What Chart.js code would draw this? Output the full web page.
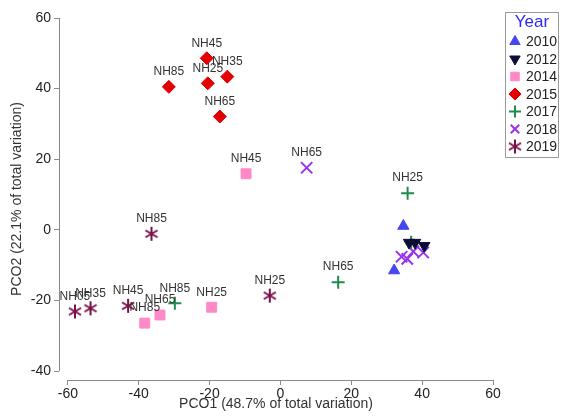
<!DOCTYPE html>
<html>
<head>
<meta charset="utf-8">
<script src="https://cdn.jsdelivr.net/npm/chart.js@4.4.1/dist/chart.umd.min.js"></script>
<style>
  html, body { margin: 0; padding: 0; background: #fff; }
  #wrap { width: 563px; height: 419px; }
</style>
</head>
<body>
<div id="wrap"><canvas id="pcoChart" width="563" height="419"></canvas></div>
<script>
// PCO scores per sampling year (PCO1 = x, PCO2 = y) with site labels
const years = ['2010', '2012', '2014', '2015', '2017', '2018', '2019'];

const x2010 = [34.7, 32.1];
const y2010 = [1.1, -11.5];
const lab2010 = ['', ''];

const x2012 = [36.3, 38.0, 40.6];
const y2012 = [-3.6, -3.6, -4.5];
const lab2012 = ['', '', ''];

const x2014 = [-9.7, -19.4, -34.0, -38.3];
const y2014 = [15.9, -21.9, -24.1, -26.4];
const lab2014 = ['NH45', 'NH25', 'NH65', 'NH85'];

const x2015 = [-31.5, -20.8, -20.5, -15.0, -17.1];
const y2015 = [40.5, 48.6, 41.5, 43.4, 32.1];
const lab2015 = ['NH85', 'NH45', 'NH25', 'NH35', 'NH65'];

const x2017 = [35.9, 36.9, 16.3, -29.8];
const y2017 = [10.4, -3.5, -14.8, -20.8];
const lab2017 = ['NH25', '', 'NH65', 'NH85'];

const x2018 = [7.4, 34.2, 35.8, 37.5, 40.3];
const y2018 = [17.6, -7.6, -8.2, -6.1, -6.4];
const lab2018 = ['NH65', '', '', '', ''];

const x2019 = [-36.4, -3.0, -58.0, -53.6, -43.0];
const y2019 = [-1.1, -18.6, -23.1, -22.2, -21.5];
const lab2019 = ['NH85', 'NH25', 'NH05', 'NH35', 'NH45'];

const xTicks = [-60, -40, -20, 0, 20, 40, 60];
const yTicks = [-40, -20, 0, 20, 40, 60];

const FONT = '"Liberation Sans", Arial, sans-serif';
const AXIS_COLOR = '#8a8a8a';

function pts(xs, ys) {
    return xs.map((x, i) => ({ x: x, y: ys[i] }));
}

// six-armed asterisk marker used for 2019
function asterisk(color) {
    const c = document.createElement('canvas');
    c.width = 16;
    c.height = 16;
    const g = c.getContext('2d');
    g.strokeStyle = color;
    g.lineWidth = 2;
    g.beginPath();
    for (let k = 0; k < 3; k++) {
        const a = Math.PI / 2 + k * Math.PI / 3;
        g.moveTo(8 + Math.cos(a) * 7, 8 - Math.sin(a) * 7);
        g.lineTo(8 - Math.cos(a) * 7, 8 + Math.sin(a) * 7);
    }
    g.stroke();
    return c;
}

const series = [
    { xs: x2010, ys: y2010, labs: lab2010, style: 'triangle', rot: 0, color: '#4646f0', r: 6.5, bw: 1 },
    { xs: x2012, ys: y2012, labs: lab2012, style: 'triangle', rot: 180, color: '#0c0c36', r: 6.5, bw: 1 },
    { xs: x2014, ys: y2014, labs: lab2014, style: 'rect', rot: 0, color: '#ff88c6', r: 7, bw: 1 },
    { xs: x2015, ys: y2015, labs: lab2015, style: 'rectRot', rot: 0, color: '#e40000', r: 6.5, bw: 1 },
    { xs: x2017, ys: y2017, labs: lab2017, style: 'cross', rot: 0, color: '#1f8b4f', r: 6.5, bw: 2 },
    { xs: x2018, ys: y2018, labs: lab2018, style: 'crossRot', rot: 0, color: '#9932ee', r: 8, bw: 2 },
    { xs: x2019, ys: y2019, labs: lab2019, style: asterisk('#7a1048'), rot: 0, color: '#7a1048', r: 7, bw: 2 }
];

// site names above each point
const siteLabels = {
    id: 'siteLabels',
    afterDatasetsDraw(chart) {
        const ctx = chart.ctx;
        ctx.save();
        ctx.font = '12px ' + FONT;
        ctx.fillStyle = '#333';
        ctx.textAlign = 'center';
        ctx.textBaseline = 'middle';
        chart.data.datasets.forEach((ds, i) => {
            const meta = chart.getDatasetMeta(i);
            meta.data.forEach((pt, j) => {
                const txt = ds.siteNames[j];
                if (txt) ctx.fillText(txt, pt.x, pt.y - 15);
            });
        });
        ctx.restore();
    }
};

// detached axis lines, spanning only the tick range
const axisLines = {
    id: 'axisLines',
    afterDraw(chart) {
        const ctx = chart.ctx;
        const xs = chart.scales.x, ys = chart.scales.y;
        const area = chart.chartArea;
        ctx.save();
        ctx.strokeStyle = AXIS_COLOR;
        ctx.lineWidth = 1;
        ctx.beginPath();
        ctx.moveTo(xs.getPixelForValue(xTicks[0]), Math.round(area.bottom) + 0.5);
        ctx.lineTo(xs.getPixelForValue(xTicks[xTicks.length - 1]), Math.round(area.bottom) + 0.5);
        ctx.moveTo(Math.round(area.left) + 0.5, ys.getPixelForValue(yTicks[0]));
        ctx.lineTo(Math.round(area.left) + 0.5, ys.getPixelForValue(yTicks[yTicks.length - 1]));
        ctx.stroke();
        ctx.restore();
    }
};

// boxed legend on the right
const yearLegend = {
    id: 'yearLegend',
    afterDraw(chart) {
        const ctx = chart.ctx;
        ctx.save();
        ctx.strokeStyle = '#9a9a9a';
        ctx.lineWidth = 1;
        ctx.strokeRect(505.5, 12.5, 53, 145);
        ctx.font = '17px ' + FONT;
        ctx.fillStyle = '#2b2bf5';
        ctx.textAlign = 'center';
        ctx.textBaseline = 'middle';
        ctx.fillText('Year', 532, 22);
        ctx.font = '14px ' + FONT;
        ctx.textAlign = 'left';
        chart.data.datasets.forEach((ds, i) => {
            const y = 41.5 + i * 17.5;
            ctx.fillStyle = ds.backgroundColor;
            ctx.strokeStyle = ds.borderColor;
            ctx.lineWidth = ds.borderWidth;
            Chart.helpers.drawPoint(ctx, {
                pointStyle: ds.pointStyle,
                rotation: ds.pointRotation,
                radius: 6,
                borderWidth: ds.borderWidth
            }, 515, y);
            ctx.fillStyle = '#222';
            ctx.fillText(ds.label, 526, y + 1);
        });
        ctx.restore();
    }
};

function keepTicks(list) {
    return function (scale) {
        scale.ticks = list.map(v => ({ value: v }));
    };
}

const ctx = document.getElementById('pcoChart').getContext('2d');
new Chart(ctx, {
    type: 'scatter',
    data: {
        datasets: series.map((s, i) => ({
            label: years[i],
            data: pts(s.xs, s.ys),
            siteNames: s.labs,
            pointStyle: s.style,
            pointRotation: s.rot,
            pointRadius: s.r,
            pointHoverRadius: s.r,
            backgroundColor: s.color,
            borderColor: s.color,
            borderWidth: s.bw
        }))
    },
    options: {
        responsive: false,
        animation: false,
        layout: { padding: { top: 18, right: 70, bottom: 0, left: 0 } },
        plugins: {
            legend: { display: false },
            tooltip: { enabled: false }
        },
        scales: {
            x: {
                type: 'linear',
                min: -62.5,
                max: 60,
                afterBuildTicks: keepTicks(xTicks),
                afterFit: function (scale) { scale.height = 39; },
                border: { display: false },
                grid: { drawOnChartArea: false, tickLength: 5, color: AXIS_COLOR },
                ticks: { font: { family: FONT, size: 14 }, color: '#222', padding: 1 },
                title: {
                    display: true,
                    text: 'PCO1 (48.7% of total variation)',
                    font: { family: FONT, size: 14 },
                    color: '#333',
                    padding: { top: 0, bottom: 6 }
                }
            },
            y: {
                type: 'linear',
                min: -42.5,
                max: 60,
                afterBuildTicks: keepTicks(yTicks),
                afterFit: function (scale) { scale.width = 59; },
                border: { display: false },
                grid: { drawOnChartArea: false, tickLength: 5, color: AXIS_COLOR },
                ticks: { font: { family: FONT, size: 14 }, color: '#222', padding: 3 },
                title: {
                    display: true,
                    text: 'PCO2 (22.1% of total variation)',
                    font: { family: FONT, size: 14 },
                    color: '#333',
                    padding: { top: 9, bottom: 0 }
                }
            }
        }
    },
    plugins: [siteLabels, axisLines, yearLegend]
});
</script>
</body>
</html>
